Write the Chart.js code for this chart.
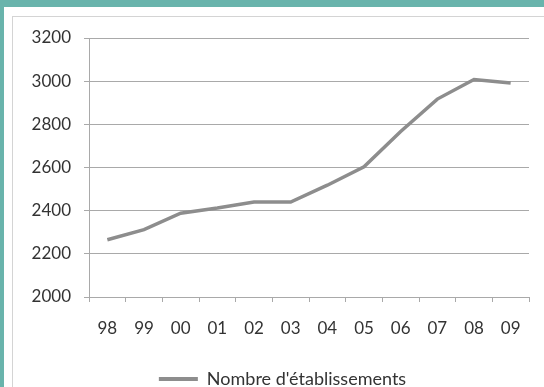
<!DOCTYPE html>
<html>
<head>
<meta charset="utf-8">
<script src="https://cdn.jsdelivr.net/npm/chart.js@4/dist/chart.umd.min.js"></script>
<style>
  html, body { margin: 0; padding: 0; }
  body { width: 544px; height: 387px; background: #69b4ac; position: relative; overflow: hidden; }
  #panel { position: absolute; left: 4px; top: 7px; width: 560px; height: 400px; background: #ffffff; }
  #frame { position: absolute; left: 12px; top: 16px; width: 560px; height: 400px; border: 1px solid #d4d4d4; box-sizing: border-box; }
  #wrap { position: absolute; left: 0; top: 0; width: 544px; height: 398px; }
</style>
</head>
<body>
<div id="panel"></div>
<div id="frame"></div>
<div id="wrap"><canvas id="chart" width="544" height="398"></canvas></div>
<script>
// Years (two-digit) and number of establishments per year
const years = ['98', '99', '00', '01', '02', '03', '04', '05', '06', '07', '08', '09'];
const establishments = [2265, 2312, 2388, 2412, 2440, 2440, 2518, 2603, 2767, 2917, 3008, 2991];
const seriesLabel = "Nombre d'établissements";
const yMin = 2000, yMax = 3200, yStep = 200;

const lineGrey = '#8d8d8d';
const gridGrey = '#a9a9a9';
const textColor = '#333333';
const fontFamily = 'Lato, "Open Sans", sans-serif';

// Nudge the legend block to the right so it sits under the middle of the frame
const legendShift = {
  id: 'legendShift',
  afterLayout(chart) {
    const lg = chart.legend;
    if (lg) { lg.left += 18; lg.right += 18; }
  }
};

new Chart(document.getElementById('chart'), {
  type: 'line',
  data: {
    labels: years,
    datasets: [{
      label: seriesLabel,
      data: establishments,
      borderColor: lineGrey,
      backgroundColor: lineGrey,
      borderWidth: 3.5,
      pointRadius: 0,
      tension: 0
    }]
  },
  options: {
    responsive: false,
    animation: false,
    layout: { padding: { left: 0, right: 15, top: 38, bottom: 0 } },
    plugins: {
      tooltip: { enabled: false },
      legend: {
        position: 'bottom',
        labels: {
          color: textColor,
          font: { family: fontFamily, size: 18 },
          boxWidth: 39,
          boxHeight: 4,
          padding: 2,
          generateLabels(chart) {
            return Chart.defaults.plugins.legend.labels.generateLabels(chart).map(item => {
              item.lineWidth = 0;
              item.fillStyle = lineGrey;
              return item;
            });
          }
        }
      }
    },
    scales: {
      x: {
        offset: true,
        grid: { offset: true, drawOnChartArea: false, drawTicks: true, tickLength: 5, color: gridGrey },
        border: { display: true, color: gridGrey, width: 1 },
        ticks: { color: textColor, font: { family: fontFamily, size: 17 }, padding: 16, maxRotation: 0 },
        afterFit(scale) { scale.height = 71; }
      },
      y: {
        min: yMin,
        max: yMax,
        grid: { drawTicks: true, tickLength: 5, color: gridGrey },
        border: { display: true, color: gridGrey, width: 1 },
        ticks: {
          stepSize: yStep,
          color: textColor,
          font: { family: fontFamily, size: 17 },
          padding: 13,
          callback: v => String(v)
        },
        afterFit(scale) { scale.width = 89; }
      }
    }
  },
  plugins: [legendShift]
});
</script>
</body>
</html>
